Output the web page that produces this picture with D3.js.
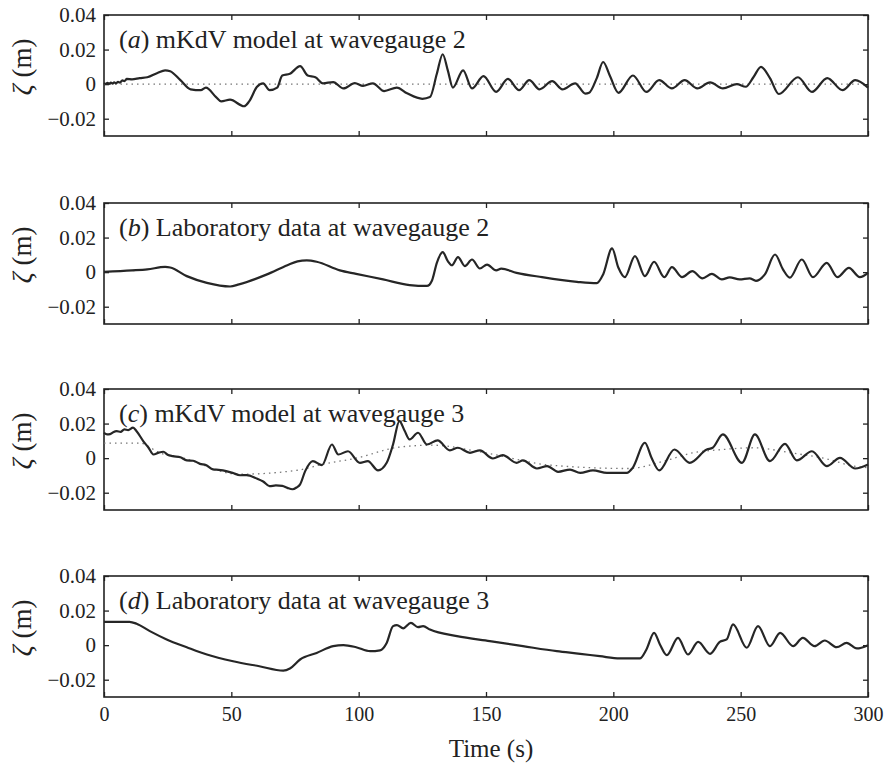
<!DOCTYPE html>
<html>
<head>
<meta charset="utf-8">
<script src="https://cdn.jsdelivr.net/npm/d3@7"></script>
<style>
  body { margin: 0; background: #fff; }
  svg text { font-family: "Liberation Serif", "Times New Roman", serif; fill: #222; }
</style>
</head>
<body>
<div id="chart"></div>
<script>
// ---- data ----
const letters = ["a", "b", "c", "d"];
const titles = [
  "mKdV model at wavegauge 2",
  "Laboratory data at wavegauge 2",
  "mKdV model at wavegauge 3",
  "Laboratory data at wavegauge 3"
];
const xTicks = [0, 50, 100, 150, 200, 250, 300];
const yTicks = [-0.02, 0, 0.02, 0.04];

// (a) mKdV model, gauge 2  [time s, elevation m]
const modelG2 = [
  [0, 0.0006], [0.7, 0.0001], [1.4, 0.0008], [2, 0.0002], [2.7, 0.0009], [3.4, 0.0003],
  [4, 0.001], [4.8, 0.0005], [5.5, 0.0013], [6.3, 0.0009], [7.2, 0.0022], [8, 0.0018],
  [9, 0.003], [11, 0.0028], [14, 0.0035], [17, 0.004], [21, 0.0065], [24, 0.008],
  [26, 0.0075], [30, 0.0023], [34, -0.003], [38, -0.0035], [40, -0.002], [44, -0.0075],
  [46, -0.01], [49.5, -0.009], [55, -0.0128], [57, -0.01], [60, -0.0017], [62.5, 0.0005],
  [65, -0.0035], [68, -0.002], [70, 0.005], [73, 0.006], [77, 0.0104], [80, 0.005],
  [83, 0.004], [86, 0.0005], [90, 0.0012], [94, -0.0025], [98.5, 0.0006], [101.7, -0.001],
  [105.6, 0.0005], [110, -0.004], [115, -0.002], [119, -0.0053], [125, -0.0085],
  [128, -0.0075], [130.7, 0.006], [133, 0.0173], [135, 0.008], [137, -0.002], [141, 0.008],
  [144.5, -0.0025], [149, 0.0046], [154, -0.0045], [158.6, 0.003], [163, -0.0035],
  [167, 0.0023], [171, -0.003], [176, 0.0017], [180, -0.003], [185, 0.0005], [189, -0.0055],
  [190.5, -0.005], [193.5, 0.0035], [196, 0.0128], [198.6, 0.005], [202, -0.005],
  [207.7, 0.005], [213, -0.0045], [218, 0.0023], [223, -0.0025], [228, 0.0023],
  [233, -0.0025], [238, 0.001], [243, -0.0025], [248.5, 0], [252, -0.0015], [255, 0.004],
  [258, 0.01], [261.5, 0.0035], [265, -0.0057], [272.5, 0.004], [278, -0.0045],
  [284, 0.0035], [290, -0.0035], [295, 0.0023], [300, -0.002]
];
const meanG2 = [[0, 0], [300, 0]];

// (b) laboratory data, gauge 2
const labG2 = [
  [0, 0.0002], [11, 0.001], [17, 0.0016], [24, 0.003], [26, 0.0027], [32.5, -0.0023],
  [40.4, -0.0062], [49.5, -0.0083], [53, -0.0071], [64, -0.0013], [72, 0.004],
  [76, 0.0062], [79.6, 0.0068], [83.5, 0.006], [92.6, 0.001], [99, -0.001],
  [109.6, -0.0042], [120, -0.0075], [126.8, -0.008], [128.8, -0.0048], [130.7, 0.0054],
  [133, 0.0116], [135, 0.0064], [136.6, 0.004], [139, 0.0087], [141.7, 0.0035],
  [144.5, 0.0073], [147.6, 0.0021], [150.4, 0.0044], [154, 0.001], [156, 0.002],
  [162, -0.0004], [172, -0.0029], [185.7, -0.0056], [193.5, -0.0064], [196, -0.0013],
  [199.5, 0.0137], [202, 0.0025], [204.5, -0.0029], [208.5, 0.0093], [212.4, -0.0023],
  [216, 0.006], [220, -0.0029], [223, 0.0029], [227, -0.0029], [231, 0.0006],
  [235, -0.0036], [238.7, -0.001], [242.6, -0.0042], [245.7, -0.003], [249.6, -0.0042],
  [253.5, -0.0036], [256, -0.005], [259.5, -0.0013], [263.5, 0.0102], [266.6, 0.0016],
  [269.3, -0.0032], [274, 0.0073], [278.4, -0.0029], [283.8, 0.0054], [288, -0.0029],
  [292.5, 0.0025], [296.8, -0.0029], [300, -0.0004]
];

// (c) mKdV model, gauge 3
const modelG3 = [
  [0, 0.0147], [1.2, 0.0137], [2.4, 0.0139], [3.6, 0.015], [5, 0.0156], [6.5, 0.0152],
  [8, 0.0166], [9.5, 0.0162], [11.4, 0.0176], [12.8, 0.0156], [15.4, 0.0099], [17.5, 0.006],
  [19.4, 0.0021], [21.5, 0.0032], [23.3, 0.0037], [25, 0.002], [27, 0.0012], [30, 0.0005],
  [32.5, -0.0013], [35, -0.0015], [37.7, -0.0033], [40, -0.004], [42.8, -0.0065],
  [45, -0.0068], [48, -0.0075], [50.5, -0.0085], [53.4, -0.0099], [56, -0.0098],
  [60, -0.0118], [62.5, -0.0135], [65, -0.0162], [67.5, -0.0158], [70, -0.016],
  [72, -0.0172], [74, -0.018], [75.6, -0.017], [77, -0.0152], [79, -0.0075], [82, -0.0017],
  [85.6, -0.004], [89.5, 0.0079], [92, 0.0021], [95.8, 0.004], [100.5, -0.0027],
  [103.6, -0.0017], [107.6, -0.0071], [111, -0.0027], [113.5, 0.0079], [116, 0.0214],
  [118, 0.016], [120, 0.0108], [123.3, 0.0147], [126.8, 0.0079], [131, 0.0103],
  [135.8, 0.0045], [139, 0.006], [143.7, 0.0031], [147.6, 0.0045], [152.7, -0.0002],
  [156.6, 0.0017], [162, -0.0027], [164.5, -0.0013], [170, -0.006], [174, -0.0046],
  [178.3, -0.0079], [183, -0.0066], [187, -0.0085], [192, -0.0071], [197.5, -0.0085],
  [205.3, -0.0085], [207.6, -0.0056], [212.4, 0.0089], [215, 0.0002], [218, -0.0071],
  [224, 0.005], [230, -0.0027], [236.7, 0.005], [239, 0.006], [243, 0.0137],
  [250.5, -0.0027], [255.6, 0.0137], [261.5, -0.0017], [267.4, 0.0083], [272, -0.0013],
  [278, 0.004], [283.8, -0.0046], [289, 0.0002], [295, -0.006], [300, -0.0037]
];
const meanG3 = [
  [0, 0.0087], [14, 0.0087], [22, 0.003], [30, 0.0005], [53, -0.0093], [76, -0.007],
  [86, -0.0035], [99, 0], [116, 0.0064], [129, 0.0075], [150, 0.003], [175, -0.004],
  [206, -0.006], [220, -0.0017], [231, 0.003], [243, 0.005], [255, 0.006], [270, 0.003],
  [284, -0.0005], [294, -0.0045], [300, -0.0055]
];

// (d) laboratory data, gauge 3
const labG3 = [
  [0, 0.0135], [10, 0.0135], [12.8, 0.0124], [18, 0.0081], [24.6, 0.0033], [32.5, -0.0012],
  [40.4, -0.0054], [50.7, -0.0093], [61, -0.0122], [70.4, -0.0147], [73, -0.0135],
  [77, -0.0083], [83.5, -0.0045], [90, -0.0006], [94, 0], [99, -0.0012], [104.5, -0.0035],
  [108.4, -0.003], [111, 0.0013], [113.5, 0.011], [115, 0.0116], [117.5, 0.0097],
  [120.5, 0.0129], [123.3, 0.0104], [125.3, 0.011], [128, 0.009], [138.6, 0.0052],
  [151.5, 0.0023], [164.5, -0.0006], [177.8, -0.0035], [187, -0.005], [194.7, -0.0064],
  [202.6, -0.0077], [210.4, -0.0077], [213, -0.0025], [216, 0.0071], [218.3, 0.0004],
  [221, -0.0058], [225.4, 0.0042], [229.3, -0.0054], [233.3, 0.0019], [238, -0.005],
  [241.8, 0.0019], [244.5, 0.0033], [247, 0.012], [252.4, -0.0015], [256.8, 0.011],
  [261.5, -0.0006], [265.5, 0.0071], [270.6, -0.0006], [274.4, 0.0042], [279, -0.0006],
  [283, 0.0027], [287.7, -0.0012], [291.6, 0.0013], [295.6, -0.0019], [300, 0]
];

const solidSeries = [modelG2, labG2, modelG3, labG3];
const dottedSeries = [meanG2, null, meanG3, null];

// ---- layout ----
const width = 890, height = 766;
const left = 104, right = 868;
const panelTops = [15, 203, 389, 576];
const panelH = 121;
const tickLen = 5;

const svg = d3.select("#chart").append("svg")
  .attr("width", width)
  .attr("height", height)
  .style("background", "#fff");

const x = d3.scaleLinear().domain([0, 300]).range([left, right]);
const yFmt = d => d === 0 ? "0" : d3.format(".2f")(d);

panelTops.forEach((top, i) => {
  const y = d3.scaleLinear().domain([-0.03, 0.04]).range([top + panelH, top]);
  const g = svg.append("g");
  const last = i === panelTops.length - 1;

  // axes, ticks pointing inward
  g.append("g")
    .attr("transform", `translate(${left},0)`)
    .call(d3.axisLeft(y).tickValues(yTicks).tickSize(-tickLen).tickPadding(8).tickFormat(yFmt))
    .call(a => a.select(".domain").remove())
    .selectAll("text").style("font-size", "21px");
  g.append("g")
    .attr("transform", `translate(${right},0)`)
    .call(d3.axisRight(y).tickValues(yTicks).tickSize(-tickLen).tickFormat(""))
    .call(a => a.select(".domain").remove());
  g.append("g")
    .attr("transform", `translate(0,${top + panelH})`)
    .call(d3.axisBottom(x).tickValues(xTicks).tickSize(-tickLen).tickPadding(10)
      .tickFormat(last ? d3.format("d") : ""))
    .call(a => a.select(".domain").remove())
    .selectAll("text").style("font-size", "20px");
  g.append("g")
    .attr("transform", `translate(0,${top})`)
    .call(d3.axisTop(x).tickValues(xTicks).tickSize(-tickLen).tickFormat(""))
    .call(a => a.select(".domain").remove());
  g.selectAll(".tick line").attr("stroke", "#222").attr("stroke-width", 1.3);

  // frame
  g.append("rect")
    .attr("x", left).attr("y", top)
    .attr("width", right - left).attr("height", panelH)
    .attr("fill", "none").attr("stroke", "#222").attr("stroke-width", 1.6);

  const line = d3.line()
    .x(d => x(d[0]))
    .y(d => y(d[1]))
    .curve(d3.curveMonotoneX);

  if (dottedSeries[i]) {
    g.append("path")
      .datum(dottedSeries[i])
      .attr("d", line)
      .attr("fill", "none")
      .attr("stroke", "#777")
      .attr("stroke-width", 1.3)
      .attr("stroke-dasharray", "1.5,4");
  }

  g.append("path")
    .datum(solidSeries[i])
    .attr("d", line)
    .attr("fill", "none")
    .attr("stroke", "#262626")
    .attr("stroke-width", 2.2)
    .attr("stroke-linejoin", "round");

  // panel title
  const t = g.append("text")
    .attr("x", left + 15)
    .attr("y", top + 33)
    .style("font-size", "26px");
  t.append("tspan").text("(");
  t.append("tspan").style("font-style", "italic").text(letters[i]);
  t.append("tspan").text(") " + titles[i]);

  // y label
  const yl = svg.append("text")
    .attr("transform", `translate(31,${y(0.01)}) rotate(-90)`)
    .attr("text-anchor", "middle")
    .style("font-size", "27px");
  yl.append("tspan").style("font-style", "italic").text("ζ");
  yl.append("tspan").text(" (m)");
});

svg.append("text")
  .attr("x", (left + right) / 2 + 5)
  .attr("y", 757)
  .attr("text-anchor", "middle")
  .style("font-size", "25px")
  .text("Time (s)");
</script>
</body>
</html>
